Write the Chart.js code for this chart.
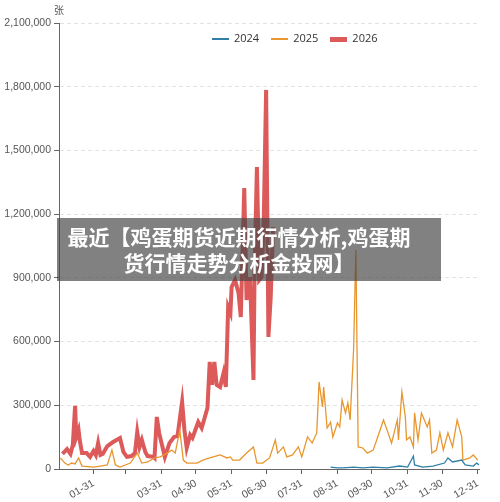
<!DOCTYPE html>
<html><head><meta charset="utf-8">
<script src="https://cdn.jsdelivr.net/npm/chart.js@4"></script>
<style>
body{margin:0;background:#fff;font-family:"Noto Sans CJK SC","Noto Sans",sans-serif}
#wrap{position:relative;width:500px;height:502px}
#banner{position:absolute;left:57px;top:218px;width:384px;height:63px;background:rgba(70,70,70,0.68);color:#fff;font-weight:bold;font-size:21px;line-height:26px;text-align:center;padding-top:5px;padding-right:20px;box-sizing:border-box;white-space:nowrap}
#legend{position:absolute;top:30px;left:212px;font-size:11px;color:#333;font-family:"Open Sans",sans-serif}
#legend span{display:inline-block;margin-right:12px}
#legend i{display:inline-block;width:17px;vertical-align:middle;margin-right:5px}
#unit{position:absolute;left:54px;top:2px;font-size:10px;color:#555}
</style></head><body>
<div id="wrap"><canvas id="c" width="500" height="502"></canvas>
<div id="unit">张</div>
<div id="legend"><span><i style="border-top:2px solid #2f7fa8"></i>2024</span><span><i style="border-top:2px solid #e8962e"></i>2025</span><span><i style="border-top:5px solid #dc5a5a"></i>2026</span></div>
<div id="banner">最近【鸡蛋期货近期行情分析,鸡蛋期<br>货行情走势分析金投网】</div>
</div>
<script>
const tickDays=[30,58,89,119,150,180,211,242,272,303,333,364];
const tickLabels=['01-31','','03-31','04-30','05-31','06-30','07-31','08-31','09-30','10-31','11-30','12-31'];
const days2026=[3,7,10,12,14,15,17,18,20,24,27,30,32,34,36,38,42,47,53,56,59,63,66,68,70,72,75,77,82,83,85,87,92,96,100,103,107,109,111,114,116,121,124,129,131,133,135,137,140,143,145,147,149,150,153,156,158,161,163,166,169,170,172,174,176,178,180,182,184,186];
const vals2026=[71,94,71,113,297,151,184,137,75,75,57,85,66,122,66,71,108,127,146,80,57,61,75,174,104,137,80,61,57,52,245,170,57,122,151,155,316,184,99,160,146,221,193,287,504,396,504,396,386,452,386,763,735,857,890,829,716,1323,796,904,419,951,1422,890,904,1187,1785,622,810,1140];
const days2025=[1,3,5,8,11,14,17,20,30,36,42,46,49,53,62,68,72,77,83,88,94,98,101,105,108,111,120,125,131,140,146,149,151,157,163,169,172,177,183,188,190,195,198,203,208,211,216,220,224,226,229,230,233,236,238,242,244,246,249,251,253,256,258,260,264,268,273,277,282,286,289,294,295,298,301,302,305,308,309,312,315,320,322,324,328,331,334,338,342,346,350,351,357,360,364];
const vals2025=[52,42,28,19,28,24,52,14,9,14,19,89,19,9,28,75,28,33,52,57,75,89,75,184,42,28,28,42,52,66,52,57,42,42,75,104,28,28,52,137,75,104,57,66,104,57,151,122,170,410,292,386,193,221,151,217,198,325,264,311,231,560,1031,104,99,75,89,151,231,170,122,231,137,363,245,137,151,104,264,137,264,198,231,75,89,170,89,170,104,231,151,42,52,66,42];
const days2024=[236,242,247,256,264,273,285,296,303,308,309,316,325,335,338,342,350,353,360,363,365];
const vals2024=[9,5,5,9,5,9,5,14,9,61,19,9,14,28,52,33,42,19,14,28,19];
const pts=(d,v)=>d.map((x,i)=>({x:x,y:v[i]*1000}));
new Chart(document.getElementById('c'),{type:'line',
data:{datasets:[
{label:'2024',data:pts(days2024,vals2024),borderColor:'#2f7fa8',borderWidth:1.3,pointRadius:0,tension:0},
{label:'2025',data:pts(days2025,vals2025),borderColor:'#e8962e',borderWidth:1.3,pointRadius:0,tension:0},
{label:'2026',data:pts(days2026,vals2026),borderColor:'#dc5a5a',borderWidth:4,pointRadius:0,tension:0}]},
options:{responsive:false,animation:false,layout:{padding:{top:23,right:21,left:0,bottom:0}},
plugins:{legend:{display:false},tooltip:{enabled:false}},
scales:{
x:{type:'linear',min:0,max:365,afterFit:a=>{a.height=33;},
 afterBuildTicks:a=>{a.ticks=tickDays.map(v=>({value:v}));},
 ticks:{autoSkip:false,maxRotation:30,minRotation:30,color:'#555',font:{size:10.5},callback:(v)=>{const i=tickDays.indexOf(v);return i>=0?tickLabels[i]:'';}},
 grid:{drawOnChartArea:false,tickLength:5,color:'#666'},border:{color:'#666'}},
y:{min:0,max:2100000,afterFit:a=>{a.width=59;},
 ticks:{stepSize:300000,color:'#555',font:{size:10.5},callback:v=>v.toLocaleString('en-US')},
 grid:{color:'#e2e2e2',tickLength:5,tickColor:'#666'},border:{color:'#666',dash:[4,3]}}
}}});
</script></body></html>
